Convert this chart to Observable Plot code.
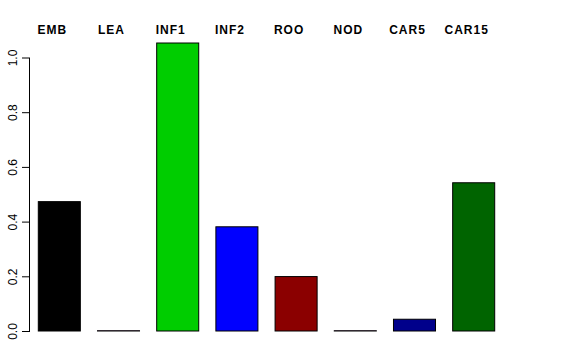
<!DOCTYPE html>
<html><head>
<meta charset="utf-8">
<script src="https://cdn.jsdelivr.net/npm/d3@7"></script>
<script src="https://cdn.jsdelivr.net/npm/@observablehq/plot@0.6"></script>
<style>
body{margin:0;background:#fff;}
#chart svg{font-family:"Liberation Sans",Arial,Helvetica,sans-serif;}
#chart svg g[aria-label="text"] text{letter-spacing:1px;}
</style>
</head><body><div id="chart"></div>
<script>
const categories = ["EMB","LEA","INF1","INF2","ROO","NOD","CAR5","CAR15"];
const values = [0.473, 0.001, 1.053, 0.381, 0.199, 0.001, 0.043, 0.542];
const colors = ["#000000","#8B008B","#00CD00","#0000FF","#8B0000","#8B008B","#00008B","#006400"];
const yTicks = [0, 0.2, 0.4, 0.6, 0.8, 1.0];

const data = categories.map((c, i) => ({cat: c, val: values[i], color: colors[i]}));

const chart = Plot.plot({
  width: 576,
  height: 360,
  marginLeft: 29,
  marginRight: 72,
  marginTop: 57.5,
  marginBottom: 29,
  style: {fontFamily: "Liberation Sans, Arial, Helvetica, sans-serif", fontSize: "12px", background: "#fff"},
  x: {domain: categories, paddingInner: 0.29, paddingOuter: 0.157, round: false, axis: null},
  y: {domain: [0, 1], axis: null, label: null},
  color: {type: "identity"},
  marks: [
    Plot.barY(data, {x: "cat", y: "val", fill: "color", stroke: "#000", strokeWidth: 1}),
    Plot.frame({anchor: "left", stroke: "#000", strokeOpacity: 1}),
    Plot.axisY(yTicks, {label: null, tickSize: 7, tickPadding: 6, tickRotate: -90, tickFormat: d3.format(".1f"), fontSize: 12, fill: "#000", stroke: "#000", strokeOpacity: 1}),
    Plot.text(categories, {x: d => d, frameAnchor: "top", dy: -27.5, dx: -7.5, lineAnchor: "middle", fontWeight: "bold", fontSize: 12, fill: "#000"})
  ]
});
document.getElementById("chart").appendChild(chart);
</script>
</body></html>
